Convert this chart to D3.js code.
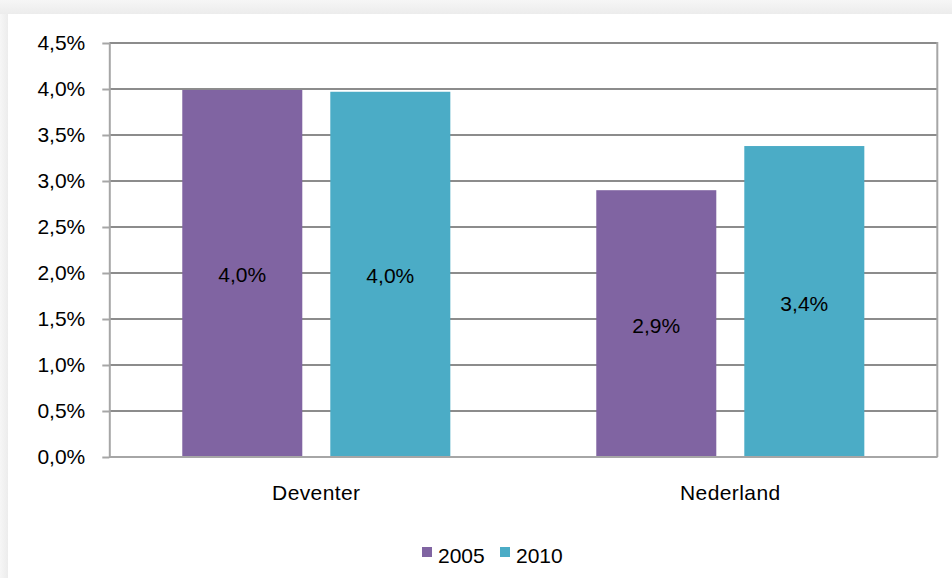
<!DOCTYPE html>
<html>
<head>
<meta charset="utf-8">
<script src="https://cdn.jsdelivr.net/npm/d3@7"></script>
<style>
  html, body { margin: 0; padding: 0; background: #f2f2f2; }
  svg { display: block; }
  text { font-family: "Liberation Sans", Arial, sans-serif; fill: #000; }
</style>
</head>
<body>
<svg id="chart" width="952" height="578"></svg>
<script>
const categories = ["Deventer", "Nederland"];
const seriesNames = ["2005", "2010"];
const values2005 = [0.0399, 0.0290];
const values2010 = [0.0397, 0.0338];
const tickValues = [0, 0.005, 0.01, 0.015, 0.02, 0.025, 0.03, 0.035, 0.04, 0.045];
const colors = ["#8064A2", "#4BACC6"];

const seriesValues = [values2005, values2010];
const data = categories.map((c, i) => ({
  category: c,
  values: seriesNames.map((s, j) => ({ series: s, value: seriesValues[j][i], idx: j }))
}));

const W = 952, H = 578;
const plot = { left: 109.3, right: 937.3, top: 43, bottom: 457 };
const FS = 21;

const nl = d3.formatLocale({ decimal: ",", thousands: ".", grouping: [3], currency: ["", " €"] });
const pct = nl.format(".1%");

const svg = d3.select("#chart");

// background with soft shadow on top/left
const defs = svg.append("defs");
const gTop = defs.append("linearGradient").attr("id", "gt").attr("x1", 0).attr("y1", 0).attr("x2", 0).attr("y2", 1);
gTop.append("stop").attr("offset", "0%").attr("stop-color", "#f6f6f6");
gTop.append("stop").attr("offset", "100%").attr("stop-color", "#ececec");
const gLeft = defs.append("linearGradient").attr("id", "gl").attr("x1", 0).attr("y1", 0).attr("x2", 1).attr("y2", 0);
gLeft.append("stop").attr("offset", "0%").attr("stop-color", "#f6f6f6");
gLeft.append("stop").attr("offset", "100%").attr("stop-color", "#ececec");

svg.append("rect").attr("x", 0).attr("y", 0).attr("width", W).attr("height", H).attr("fill", "#f4f4f4");
svg.append("rect").attr("x", 0).attr("y", 0).attr("width", W).attr("height", 14).attr("fill", "url(#gt)");
svg.append("rect").attr("x", 0).attr("y", 14).attr("width", 8).attr("height", H).attr("fill", "url(#gl)");
svg.append("rect").attr("x", 8).attr("y", 14).attr("width", W - 8).attr("height", H - 14).attr("fill", "#ffffff");

const y = d3.scaleLinear().domain([0, 0.045]).range([plot.bottom, plot.top]);
const x0 = d3.scaleBand().domain(categories).range([plot.left, plot.right]).paddingInner(0).paddingOuter(0);
const x1 = d3.scaleBand().domain(seriesNames).range([0, x0.bandwidth()])
  .paddingInner(28 / 148).paddingOuter(0.493);

// gridlines
svg.append("g").selectAll("line").data(tickValues).join("line")
  .attr("x1", plot.left).attr("x2", plot.right)
  .attr("y1", d => y(d)).attr("y2", d => y(d))
  .attr("stroke", "#8c8c8c").attr("stroke-width", 2);

// right border
svg.append("line").attr("x1", plot.right).attr("x2", plot.right)
  .attr("y1", plot.top - 1).attr("y2", plot.bottom)
  .attr("stroke", "#a6a6a6").attr("stroke-width", 2);

// bars
const groups = svg.append("g").selectAll("g").data(data).join("g")
  .attr("transform", d => `translate(${x0(d.category)},0)`);
groups.selectAll("rect").data(d => d.values).join("rect")
  .attr("x", d => x1(d.series))
  .attr("y", d => y(d.value))
  .attr("width", x1.bandwidth())
  .attr("height", d => y(0) - y(d.value))
  .attr("fill", d => colors[d.idx]);

// bar labels
groups.selectAll("text").data(d => d.values).join("text")
  .attr("x", d => x1(d.series) + x1.bandwidth() / 2)
  .attr("y", d => (y(d.value) + y(0)) / 2 + 9)
  .attr("text-anchor", "middle")
  .attr("font-size", FS)
  .text(d => pct(d.value));

// y axis
const yAxis = d3.axisLeft(y).tickValues(tickValues).tickFormat(pct).tickSize(7).tickPadding(17).tickSizeOuter(0);
const gy = svg.append("g").attr("transform", `translate(${plot.left},0)`).call(yAxis);
gy.select(".domain").attr("stroke", "#a6a6a6").attr("stroke-width", 2);
gy.selectAll(".tick line").attr("stroke", "#a6a6a6").attr("stroke-width", 2);
gy.selectAll(".tick text").attr("font-size", FS).attr("font-family", "Liberation Sans, Arial, sans-serif").attr("fill", "#000");

// x axis line
svg.append("line").attr("x1", plot.left).attr("x2", plot.right)
  .attr("y1", y(0)).attr("y2", y(0)).attr("stroke", "#a6a6a6").attr("stroke-width", 2);

// category labels
svg.append("g").selectAll("text").data(categories).join("text")
  .attr("x", d => x0(d) + x0.bandwidth() / 2)
  .attr("y", 500)
  .attr("text-anchor", "middle")
  .attr("font-size", FS)
  .attr("letter-spacing", 0.4)
  .text(d => d);

// legend
const legendX = [422, 500];
const leg = svg.append("g").selectAll("g").data(seriesNames).join("g")
  .attr("transform", (d, i) => `translate(${legendX[i]},547)`);
leg.append("rect").attr("width", 10).attr("height", 10).attr("fill", (d, i) => colors[i]);
leg.append("text").attr("x", 16).attr("y", 15.5).attr("font-size", FS).text(d => d);
</script>
</body>
</html>
